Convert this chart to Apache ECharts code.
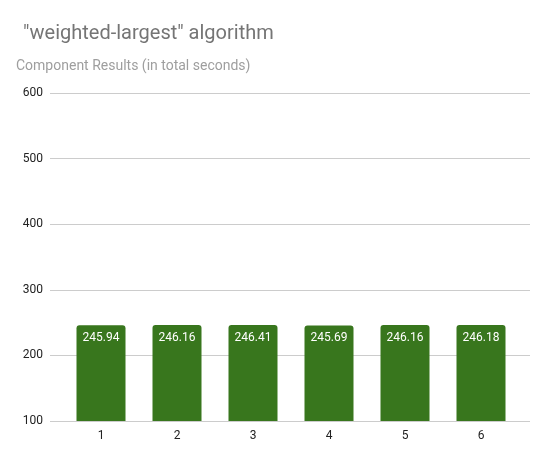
<!DOCTYPE html>
<html>
<head>
<meta charset="utf-8">
<script src="https://cdn.jsdelivr.net/npm/echarts@6/dist/echarts.min.js"></script>
<style>
html,body{margin:0;padding:0;background:#fff;}
#chart{width:554px;height:464px;}
</style>
</head>
<body>
<div id="chart"></div>
<script>
const titleText = '"weighted-largest" algorithm';
const subtitleText = 'Component Results (in total seconds)';
const categories = ['1', '2', '3', '4', '5', '6'];
const values = [245.94, 246.16, 246.41, 245.69, 246.16, 246.18];
const yTicks = [100, 200, 300, 400, 500, 600];

const chart = echarts.init(document.getElementById('chart'), null, {renderer: 'canvas'});
const font = 'Roboto, "Noto Sans", Arial, sans-serif';
chart.setOption({
  animation: false,
  backgroundColor: '#ffffff',
  title: [
    {text: titleText, left: 23, top: 24, padding: 0,
     textStyle: {fontFamily: font, fontSize: 20, fontWeight: 'normal', color: '#757575'}},
    {text: subtitleText, left: 16, top: 59, padding: 0,
     textStyle: {fontFamily: font, fontSize: 14, fontWeight: 'normal', color: '#9e9e9e'}}
  ],
  grid: [
    {left: 50, right: 24, top: 93, bottom: 43, containLabel: false},
    {left: 63, right: 35, top: 93, bottom: 43, containLabel: false}
  ],
  xAxis: [
    {gridIndex: 0, type: 'category', data: categories, show: false},
    {gridIndex: 1, type: 'category', data: categories,
     axisLine: {show: false}, axisTick: {show: false},
     axisLabel: {color: '#222', fontFamily: font, fontSize: 12, margin: 9}}
  ],
  yAxis: [
    {gridIndex: 0, type: 'value', min: yTicks[0], max: yTicks[yTicks.length - 1], interval: 100,
     axisLine: {show: false}, axisTick: {show: false},
     axisLabel: {color: '#222', fontFamily: font, fontSize: 12, margin: 7},
     splitLine: {show: true, lineStyle: {color: '#cccccc', width: 1}}},
    {gridIndex: 1, type: 'value', min: yTicks[0], max: yTicks[yTicks.length - 1], interval: 100,
     show: false, splitLine: {show: false}}
  ],
  series: [{
    type: 'bar',
    xAxisIndex: 1,
    yAxisIndex: 1,
    data: values,
    barWidth: 49,
    itemStyle: {color: '#38761d', borderRadius: [3, 3, 0, 0]},
    label: {
      show: true, position: 'insideTop', distance: 7,
      color: '#ffffff', fontFamily: font, fontSize: 12,
      formatter: p => p.value.toFixed(2)
    }
  }]
});
</script>
</body>
</html>
